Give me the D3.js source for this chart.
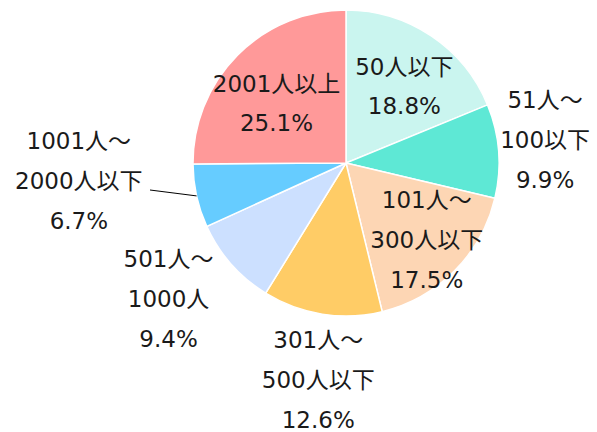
<!DOCTYPE html>
<meta charset="utf-8">
<style>
body { margin: 0; background: #fff; }
text { font-family: "DejaVu Sans", "Noto Sans CJK JP", sans-serif; font-size: 23px; fill: #1a1a1a; }
</style>
<svg width="597" height="432"></svg>
<script src="https://d3js.org/d3.v7.min.js"></script>
<script>

// data
var labels = [
  ["50人以下"],
  ["51人～", "100以下"],
  ["101人～", "300人以下"],
  ["301人～", "500人以下"],
  ["501人～", "1000人"],
  ["1001人～", "2000人以下"],
  ["2001人以上"]
];
var shares = [18.8, 9.9, 17.5, 12.6, 9.4, 6.7, 25.1];
var colors = ["#caf5ef", "#5ee8d5", "#fdd6b4", "#ffcc66", "#cce0ff", "#66ccff", "#ff9999"];

var svg = d3.select("svg"),
    cx = 346, cy = 163, R = 153;

var pie = d3.pie().sort(null).value(function(d) { return d; });
var arcs = pie(shares);

var arc = d3.arc().innerRadius(0).outerRadius(R);

var g = svg.append("g").attr("transform", "translate(" + cx + "," + cy + ")");

g.selectAll("path")
  .data(arcs)
  .enter().append("path")
    .attr("d", arc)
    .attr("fill", function(d, i) { return colors[i]; })
    .attr("stroke", "#fff")
    .attr("stroke-width", 1.5);

// label placement: radius factor and angle tweak per slice
var place = [
  [0.63, 0.06], [1.31, -0.035], [0.73, -0.02], [1.43, -0.03],
  [1.46, 0.07], [1.75, 0.15], [0.6, -0.07]
];

function pt(a, r) { return [Math.sin(a) * r, -Math.cos(a) * r]; }

arcs.forEach(function(d, i) {
  var mid = (d.startAngle + d.endAngle) / 2,
      p = pt(mid + place[i][1], R * place[i][0]),
      lines = labels[i].concat([shares[i].toFixed(1) + "%"]),
      step = lines.length == 2 ? 39 : 40;
  var t = g.append("text")
      .attr("text-anchor", "middle")
      .attr("x", p[0])
      .attr("y", p[1] - step * (lines.length - 1) / 2);
  lines.forEach(function(s, j) {
    t.append("tspan")
      .attr("x", p[0])
      .attr("dy", j ? step : 0)
      .attr("dominant-baseline", "central")
      .text(s);
  });
});

// leader line for the small slice
var f = arcs[5], fm = (f.startAngle + f.endAngle) / 2, e = pt(fm, R);
g.append("line")
    .attr("x1", 150 - cx).attr("y1", 190 - cy)
    .attr("x2", e[0]).attr("y2", e[1])
    .attr("stroke", "#000")
    .attr("stroke-width", 1);

</script>
